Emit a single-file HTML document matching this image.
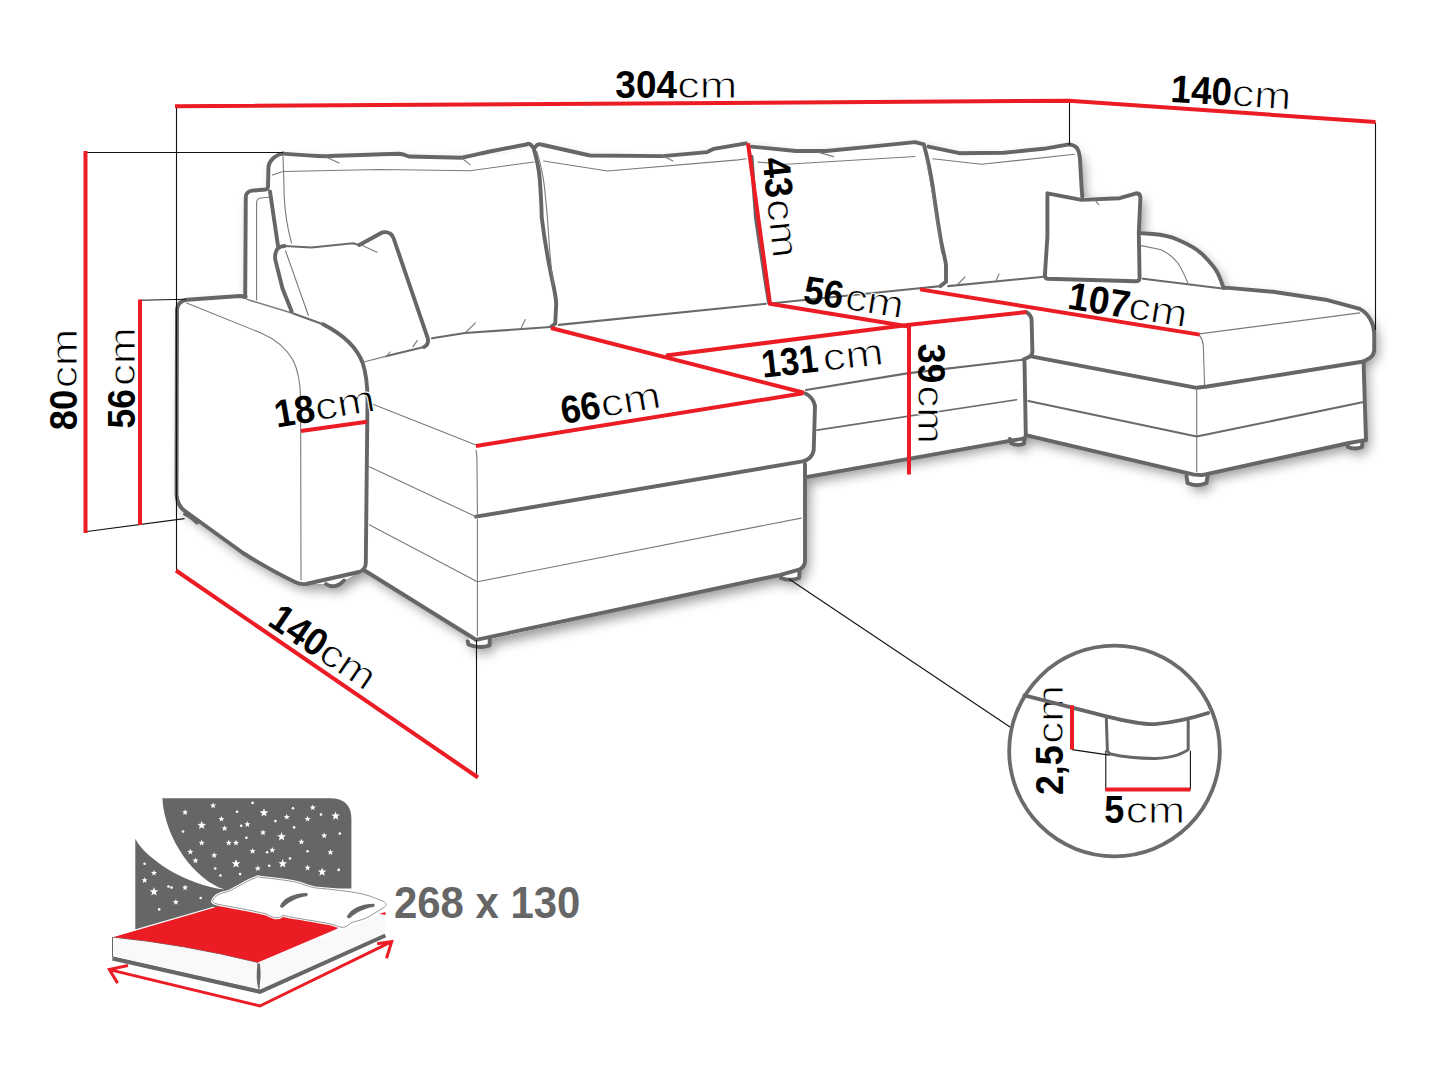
<!DOCTYPE html>
<html>
<head>
<meta charset="utf-8">
<style>
html,body{margin:0;padding:0;background:#fff;}
body{width:1445px;height:1084px;overflow:hidden;position:relative;}
svg{position:absolute;left:0;top:0;}
.k{fill:none;stroke:#666;stroke-width:3.9;stroke-linecap:round;stroke-linejoin:round;}
.m{fill:none;stroke:#6a6a6a;stroke-width:2.1;stroke-linecap:round;stroke-linejoin:round;}
.t{fill:none;stroke:#7a7a7a;stroke-width:1.1;stroke-linecap:round;stroke-linejoin:round;}
.r{fill:none;stroke:#ec1c24;stroke-width:4;stroke-linecap:butt;stroke-linejoin:miter;}
.b{fill:none;stroke:#111;stroke-width:1.1;}
text{font-family:"Liberation Sans",sans-serif;fill:#000;}
.n{font-weight:bold;}
.c{stroke:#fff;stroke-width:0.9;}
</style>
</head>
<body>
<svg width="1445" height="1084" viewBox="0 0 1445 1084">
<!-- SOFA -->
<g id="sofa">
<defs><filter id="sh" x="-10%" y="-10%" width="120%" height="130%"><feGaussianBlur in="SourceAlpha" stdDeviation="6"/><feOffset dx="3.5" dy="6" result="o"/><feComponentTransfer><feFuncA type="linear" slope="0.4"/></feComponentTransfer><feMerge><feMergeNode/><feMergeNode in="SourceGraphic"/></feMerge></filter></defs>
<path fill="#fff" filter="url(#sh)" d="M283,153.4 L322,156.5 L398.7,153.8 L409,156.5 L460,155.5 L505,154.5 L530,148 L543.3,145 L589.8,155.5 L662.9,156.1 L707.2,152.1 L745.9,143.3 L795.7,151 L870.7,146.6 L915,142.1 L959.3,153.2 L1003.6,152.8 L1069,144.4 Q1079.5,152 1080,160 L1082.3,197 L1119.7,198.2 L1136.3,193.3 Q1140.4,193.5 1140.4,198 L1139.6,233.1 L1152.9,234 C1165,235 1172,237 1177.8,239.8 C1190,245 1197,249 1202.7,254.7 C1210,262 1215,268 1217.7,273 C1220,278 1222,283 1223.5,287.9 L1273,291.8 L1325.6,299.7 L1359.8,308.9 Q1367,313 1370.3,319.4 Q1374,326 1374.2,332.6 L1374.2,351 L1363.7,361.5 L1366,440.4 L1362.5,442 L1362,447 Q1355,450 1348,447 L1347,443.5 L1202,475.1 L1207.5,476 L1206.5,483 Q1196.7,487.5 1187.5,483 L1186.5,476 L1194.1,474.6 L1025.8,435.2 L1024.5,437.8 L1024,443.5 Q1017,446.5 1011,443 L1010,439 L806,477.2 L805,561 Q805,566 799.9,569.3 L799.5,571 L799.2,578 Q790,581.5 781,578 L780.5,575.5 L489.8,639 L489.5,645.5 Q478.8,649 468.5,644.5 L467.7,641.3 L470,636 L363,569.5 L359,572 L344,580.5 Q335,590 326,584 L306,584 Q300,584.5 295,582 Q270,570 243,553 L186,511 Q178.5,506 177.5,495 L178.5,309 Q179.5,301 187,299.8 L240,296 L245.2,297 L245.8,197 Q246,191.5 252,190.6 L265.5,189.5 Q268,189 268,186.5 L268.5,166.5 C270,159 277,154.5 283,153.4 Z"/>
<!-- left back panel & arm -->
<path class="k" d="M283,153.4 C277,154.5 270,159 268.5,166.5 L268,186.5 Q268,189 265.5,189.5 L252,190.6 Q246,191.5 245.8,197 L245.2,297"/>
<path class="t" d="M270,197.3 L260,198 Q256.6,199 256.6,203 L256.6,300"/>
<path class="k" d="M245.6,297 L240,296 L187,299.8 Q178,301 177,309 L176.5,495 Q177.5,506 185,511 L243,553 Q270,570 295,582 Q300,584.5 306,584 L359,572 Q365.5,570 365.8,563 L367.5,400 C367.5,385 366,373 362.7,363 C356,345 340,333 323,324.3"/>
<path class="m" d="M323,324.3 L292.6,313.2"/>
<path class="t" style="stroke-width:1.5" d="M292.6,313.2 L246.9,299.4"/>
<path class="t" d="M186.6,303 L261,333 C275,339 286,348 293,360 C299,372 300.5,385 300.6,400 L301,580"/>
<path class="k" d="M185,514 Q190,516 197,522.5"/>
<path class="k" d="M326,584 Q335,590 344,580.5"/>
<!-- cushion 1 -->
<path class="k" d="M283,153.6 C300,155 315,156 326,156.3 C350,155.5 380,154 398.7,153.8 C403,154 406,155.5 409,156.5 C430,157 450,157.5 461.7,157.7 C472,156 482,153 492.2,151 C505,148.5 518,146 526.2,144.5 C528,143.4 529.5,143.5 531,145 L534,148.4"/>
<path class="k" d="M270,191.5 L278,246"/>
<path class="t" d="M283,156.6 C283.5,170 284,185 284.2,196.4 C285,215 288,230 291.5,243"/>
<path class="t" d="M272.4,175 L283,171.5 L379.5,169.5 L470,170.7 L534,162"/>
<path class="t" d="M326,157 L339,163"/>
<path class="t" d="M461.7,158 L470,164.6"/>
<path class="k" d="M534,149.4 C537,160 539,170 539.7,178.4 C541,195 541.5,207 541.7,217.2 C543.5,232 545.5,245 547.5,255.9 C549.5,267 551.5,277 553.3,285 C555,293 556.2,299 556.2,304.4 L555.2,323.7 L551.4,326.6"/>
<path class="t" d="M536.8,151.3 C541,165 543.5,178 544.6,188.1 C547,210 548.5,230 549.4,246.2 C550.5,262 552,275 553.3,285"/>
<path class="m" d="M432,338.3 L465,333 L550.3,327"/>
<path class="t" d="M465,333 L475.5,322.8 M521.2,328 L525.3,319.6"/>
<!-- left pillow -->
<path class="k" d="M291.5,311 L282.5,288.5 L275.2,259.4 Q274.5,251 279,247.5 Q282,246 284.5,246"/>
<path class="m" d="M284.5,246 L311.5,247.5 L353,243.3 L359.3,245"/>
<path class="k" d="M359.3,245 L382.1,232.5 Q387,231.5 390,233.5 Q392.5,235 393.5,238 L427.8,338.3 Q429,344.5 424,347"/>
<path class="m" d="M424,347 L386.7,356.1"/>
<path class="t" d="M386.7,356.1 L364.6,361.7"/>
<path class="t" d="M285.6,251 L308.4,315.5"/>
<path class="t" d="M361.3,245 L377,252.2"/>
<path class="t" d="M417.4,340.4 L413,346.6 M390,352 L386,357"/>
<!-- cushion 2 -->
<path class="k" d="M534,148.4 L537,145 Q539,143.8 541,144.5 L589.8,155.5 L662.9,156.1 L707.2,152.1 L713.8,148.8 L745.9,143.3"/>
<path class="t" d="M543.6,161 L607.5,171 L738.2,159.9 L746,158.8"/>
<path class="t" d="M663,156 L673,161"/>
<path class="m" d="M558.8,324.9 L765.8,303.8"/>
<path class="k" d="M751.5,156.6 L756,218.6 L766,285 L769,302.7"/>
<!-- cushion 3 -->
<path class="k" d="M751.5,146.6 L795.7,151 L826.4,151 L870.7,146.6 L915,142.1 L923.9,144.4 C928,160 931,175 932.7,186.4 C936,210 939,230 941.6,244 C944,255 946,262 946,266.2 L946,281.7 L940.5,286.1"/>
<path class="t" d="M758,162.1 L786.6,164.3 L915,156.5"/>
<path class="t" d="M926,157.6 C932,190 938,225 941.6,252.9"/>
<path class="t" d="M817.9,152.1 L833.4,156.6"/>
<path class="m" d="M770,303.5 L919.4,288.3 L940.5,286.1"/>
<!-- cushion 4 -->
<path class="k" d="M928.3,146.6 L959.3,153.2 L1003.6,152.8 L1043.5,148.8 L1069,144.4 Q1074.5,145 1077,148 Q1079.5,152 1080,160 L1081.5,186.6 L1082.3,197"/>
<path class="t" d="M932.7,158.8 L981.5,164.3 L1074.5,154.3"/>
<path class="m" d="M948.2,286.1 L1039,277.2 L1045,276.5"/>
<path class="t" d="M958,284 L965,277 M996,281 L999,274"/>
<!-- right pillow -->
<path class="k" d="M1047.4,193.3 L1081.5,199.9 L1119.7,198.2 L1136.3,193.3 Q1140.4,193.5 1140.4,198 L1138.8,233 L1139.6,278.5 Q1139,281.3 1136,281.3 L1047.5,278.8 Q1044.9,278.5 1044.9,275 L1047.4,236.4 L1047.4,196 Z"/>
<path class="t" d="M1094.8,199.9 L1098.9,204.9"/>
<!-- right arm + chaise -->
<path class="k" d="M1139.6,233.1 L1152.9,234 C1165,235 1172,237 1177.8,239.8 C1190,245 1197,249 1202.7,254.7 C1210,262 1215,268 1217.7,273 C1220,278 1222,283 1223.5,287.9 L1228.3,287.9 L1273,291.8 L1325.6,299.7 L1359.8,308.9 Q1367,313 1370.3,319.4 Q1374,326 1374.2,332.6 L1374.2,351 Q1373,356 1370.3,357.6 L1363.7,361.5"/>
<path class="t" d="M1141.3,245.6 L1161.2,249.7 C1168,253 1174,258 1177.8,263 C1182,269 1185,276 1187.8,283"/>
<path class="m" d="M1143,278.8 L1224.3,288.8"/>
<path class="t" d="M1199.3,333.9 L1359.8,312.9"/>
<path class="t" d="M1199.3,335.2 Q1203,340 1203.3,345.7 L1204.6,385.2"/>
<path class="k" d="M1363.7,361.5 L1207.2,386.5 L1196.7,387.8 L1031,356.3"/>
<path class="t" d="M1196.7,388 L1196.7,472"/>
<path class="m" d="M1028.4,401 L1196.7,436.5 L1362.4,402.3"/>
<path class="k" d="M1363.5,361.5 L1366,440.4"/>
<path class="k" d="M1025.8,435.2 L1194.1,474.6 L1202,475.1 L1349.2,443 L1363.7,440.4"/>
<path class="k" d="M1186.5,476 L1187.5,483 Q1196.7,487.5 1206.5,483 L1207.5,476"/>
<path class="k" d="M1347,443.5 L1348,447 Q1355,450 1362,447 L1362.5,442"/>
<path class="k" d="M1010,439 L1011,443 Q1017,446.5 1024,443.5 L1024.5,437.8"/>
<!-- middle seat -->
<path class="k" d="M1026.2,312 Q1031,315 1031.6,319.5 L1032.4,352.5 Q1031.5,356 1029,357 L1023.4,359.5"/>
<path class="m" d="M806,390 L907,373.4 L1024.8,359.5"/>
<path class="m" style="stroke-width:1.6" d="M817,430.1 L1016.5,399.7"/>
<path class="k" d="M1024.5,361.5 L1025.8,435.2"/>
<path class="k" d="M806,477.2 L1008.2,441.2 L1024.8,438.4"/>
<!-- left chaise -->
<path class="t" d="M371.7,403.7 L476,445"/>
<path class="t" d="M476,450.3 Q477,455 477,462 L477.4,514"/>
<path class="k" d="M476,516.7 L802.6,461.4 Q812,459 813.7,450.3 L815,406 Q813,397 805.4,393.5"/>
<path class="t" d="M369.3,466.7 L476,516.7"/>
<path class="t" d="M369.3,524.8 L477.4,581.8 L801.2,518.1"/>
<path class="k" d="M363,569.5 L470,636 L476,639.9 L780.5,574.8 L799.9,569.3 Q805,566 805,561 L805,464"/>
<path class="t" d="M477.4,519.5 L477.4,635.7"/>
<path class="k" d="M467.7,641.3 L468.5,644.5 Q478.8,649 489.5,645.5 L489.8,639"/>
<path class="k" d="M780.5,575.5 L781,578 Q790,581.5 799.2,578 L799.5,571"/>
</g>
<!-- DIMENSIONS -->
<g id="dims">
<path class="b" d="M176.5,106 L176.5,570"/>
<path class="b" d="M86,152.5 L283,152.5"/>
<path class="b" d="M140,300.2 L186,299.2"/>
<path class="b" d="M87,531.5 L184.5,518.6"/>
<path class="b" d="M1069.5,101.5 L1069.5,145"/>
<path class="b" d="M1375.5,122.5 L1375.5,330"/>
<path class="b" d="M476.5,640 L476.5,776"/>
<path class="b" d="M789,579 L1010,727"/>
<path class="r" d="M175,106.2 L1069,100.8 L1375.5,122"/>
<path class="r" d="M85.5,151 L85.5,533"/>
<path class="r" d="M140,299.5 L140,525"/>
<path class="r" d="M176,570.5 L478,777.5"/>
<path class="r" d="M301,431 L367,421.8"/>
<path class="r" d="M476,446 L803,393.3"/>
<path class="r" d="M551,328 L804,392.8"/>
<path class="r" d="M666,355.5 L907.5,325 L1026.5,312"/>
<path class="r" d="M748,143.3 L770,303.8 L908.5,326.5"/>
<path class="r" d="M909,325 L909,474.5"/>
<path class="r" d="M920,289.4 L1199.6,334.6"/>
</g>
<!-- LABELS -->
<g id="labels">
<g transform="translate(616.1,97.5) rotate(0.0)"><text class="n" x="-0.74" font-size="38.8" textLength="61.65" lengthAdjust="spacingAndGlyphs">304</text><text x="61.20" class="c" font-size="37.8" textLength="59.93" lengthAdjust="spacingAndGlyphs">cm</text></g>
<g transform="translate(1172.2,101.8) rotate(3.7)"><text class="n" x="-2.20" font-size="38.8" textLength="61.21" lengthAdjust="spacingAndGlyphs">140</text><text x="59.22" class="c" font-size="37.8" textLength="59.28" lengthAdjust="spacingAndGlyphs">cm</text></g>
<g transform="translate(77.1,429.1) rotate(-90.0)"><text class="n" x="-1.09" font-size="38.8" textLength="40.46" lengthAdjust="spacingAndGlyphs">80</text><text x="40.92" class="c" font-size="37.8" textLength="59.39" lengthAdjust="spacingAndGlyphs">cm</text></g>
<g transform="translate(135.3,427.4) rotate(-90.0)"><text class="n" x="-1.06" font-size="38.8" textLength="39.30" lengthAdjust="spacingAndGlyphs">56</text><text x="41.44" class="c" font-size="37.8" textLength="58.74" lengthAdjust="spacingAndGlyphs">cm</text></g>
<g transform="translate(279.0,427.3) rotate(-9.7)"><text class="n" x="-2.18" font-size="38.8" textLength="40.38" lengthAdjust="spacingAndGlyphs">18</text><text x="38.48" class="c" font-size="37.8" textLength="60.69" lengthAdjust="spacingAndGlyphs">cm</text></g>
<g transform="translate(564.3,423.7) rotate(-9.5)"><text class="n" x="-1.43" font-size="38.8" textLength="39.89" lengthAdjust="spacingAndGlyphs">66</text><text x="38.88" class="c" font-size="37.8" textLength="60.58" lengthAdjust="spacingAndGlyphs">cm</text></g>
<g transform="translate(762.5,159.0) rotate(84.0)"><text class="n" x="-0.36" font-size="38.8" textLength="40.43" lengthAdjust="spacingAndGlyphs">43</text><text x="41.43" class="c" font-size="37.8" textLength="58.85" lengthAdjust="spacingAndGlyphs">cm</text></g>
<g transform="translate(803.3,302.7) rotate(9.0)"><text class="n" x="-1.07" font-size="38.8" textLength="39.72" lengthAdjust="spacingAndGlyphs">56</text><text x="40.94" class="c" font-size="37.8" textLength="58.63" lengthAdjust="spacingAndGlyphs">cm</text></g>
<g transform="translate(765.0,377.6) rotate(-6.4)"><text class="n" x="-2.04" font-size="38.8" textLength="56.70" lengthAdjust="spacingAndGlyphs">131</text><text x="59.47" class="c" font-size="37.8" textLength="60.90" lengthAdjust="spacingAndGlyphs">cm</text></g>
<g transform="translate(917.6,344.4) rotate(90.0)"><text class="n" x="-0.71" font-size="38.8" textLength="39.45" lengthAdjust="spacingAndGlyphs">39</text><text x="40.84" class="c" font-size="37.8" textLength="58.74" lengthAdjust="spacingAndGlyphs">cm</text></g>
<g transform="translate(1068.7,308.8) rotate(9.0)"><text class="n" x="-2.23" font-size="38.8" textLength="62.13" lengthAdjust="spacingAndGlyphs">107</text><text x="59.13" class="c" font-size="37.8" textLength="58.95" lengthAdjust="spacingAndGlyphs">cm</text></g>
<g transform="translate(268.0,625.5) rotate(34.1)"><text class="n" x="-2.19" font-size="38.8" textLength="60.78" lengthAdjust="spacingAndGlyphs">140</text><text x="58.73" class="c" font-size="37.8" textLength="59.06" lengthAdjust="spacingAndGlyphs">cm</text></g>
<g transform="translate(1063.0,794.0) rotate(-90.0)"><text class="n" x="-1.07" font-size="38.8" textLength="49.75" lengthAdjust="spacingAndGlyphs">2,5</text><text x="50.23" class="c" font-size="37.8" textLength="58.85" lengthAdjust="spacingAndGlyphs">cm</text></g>
<g transform="translate(1105.4,822.6) rotate(0.0)"><text class="n" x="-1.08" font-size="38.8" textLength="20.02" lengthAdjust="spacingAndGlyphs">5</text><text x="20.32" class="c" font-size="37.8" textLength="59.28" lengthAdjust="spacingAndGlyphs">cm</text></g>
</g>
<!-- DETAIL CIRCLE -->
<g id="detail">
<circle cx="1114.5" cy="751" r="105.3" fill="none" stroke="#6b6b6b" stroke-width="3.8"/>
<path class="k" d="M1024.4,695.3 L1106.3,716.3 Q1140,724.5 1155,724.1 Q1180,722 1208.1,713"/>
<path class="k" style="stroke-width:3" d="M1106.3,717.5 L1107.4,750.7 Q1108,753 1110.7,754 Q1130,758.5 1155,758.4 Q1168,758 1177.1,755.1 Q1185,752 1188.2,749.6 L1188.2,720.8"/>
<path class="b" d="M1105.8,750.7 L1105.8,789.4 M1190.4,750.7 L1190.4,789.4"/>
<path class="b" d="M1072,749.6 L1109.6,755.1"/>
<path class="r" d="M1105.2,789.4 L1190.4,789.4"/>
<path class="r" d="M1072,705.3 L1072,749.6"/>
</g>
<!-- BED ICON -->
<g id="bed">
<defs><path id="st" d="M0.000,-1.000 L0.247,-0.340 L0.951,-0.309 L0.399,0.130 L0.588,0.809 L0.000,0.420 L-0.588,0.809 L-0.399,0.130 L-0.951,-0.309 L-0.247,-0.340Z"/></defs>
<path fill="#666" d="M162.3,798.3 L330,798.3 Q351.4,798.3 351.4,819 L351.4,888.4 L315,888.4 L135.3,935 L135.3,838.8 C145,858 185,885 224.6,889.6 C195,880 165,840 162.3,798.3 Z"/>
<g fill="#fff">
<use href="#st" transform="translate(213.1,805.6) scale(3.2)"/>
<circle cx="252.6" cy="802.9" r="1.3"/>
<use href="#st" transform="translate(185.1,812.4) scale(3.2)"/>
<use href="#st" transform="translate(264.0,812.8) scale(4.6)"/>
<circle cx="237.0" cy="811.8" r="1.3"/>
<use href="#st" transform="translate(312.8,807.6) scale(3.2)"/>
<use href="#st" transform="translate(335.6,816.0) scale(4.6)"/>
<circle cx="321.0" cy="814.5" r="1.3"/>
<circle cx="293.0" cy="808.3" r="1.3"/>
<use href="#st" transform="translate(221.4,819.0) scale(3.2)"/>
<use href="#st" transform="translate(286.8,817.0) scale(3.2)"/>
<use href="#st" transform="translate(307.6,819.0) scale(3.2)"/>
<circle cx="275.4" cy="821.1" r="1.3"/>
<use href="#st" transform="translate(201.7,825.3) scale(4.6)"/>
<use href="#st" transform="translate(247.4,824.3) scale(3.2)"/>
<circle cx="241.2" cy="825.7" r="1.3"/>
<circle cx="294.1" cy="827.4" r="1.3"/>
<use href="#st" transform="translate(224.6,828.4) scale(3.2)"/>
<circle cx="183.0" cy="831.5" r="1.3"/>
<use href="#st" transform="translate(263.0,832.6) scale(3.2)"/>
<use href="#st" transform="translate(281.6,836.7) scale(4.6)"/>
<use href="#st" transform="translate(324.2,835.7) scale(3.2)"/>
<circle cx="339.8" cy="833.6" r="1.3"/>
<circle cx="246.4" cy="837.7" r="1.3"/>
<use href="#st" transform="translate(201.7,842.9) scale(3.2)"/>
<use href="#st" transform="translate(228.7,842.9) scale(3.2)"/>
<use href="#st" transform="translate(236.0,842.9) scale(3.2)"/>
<use href="#st" transform="translate(301.4,841.9) scale(3.2)"/>
<use href="#st" transform="translate(190.3,851.9) scale(3.2)"/>
<use href="#st" transform="translate(214.2,855.4) scale(3.2)"/>
<use href="#st" transform="translate(252.6,851.2) scale(3.2)"/>
<circle cx="267.1" cy="852.3" r="1.3"/>
<use href="#st" transform="translate(272.3,850.2) scale(3.2)"/>
<circle cx="307.6" cy="851.2" r="1.3"/>
<use href="#st" transform="translate(330.4,852.3) scale(3.2)"/>
<use href="#st" transform="translate(195.5,860.6) scale(3.2)"/>
<use href="#st" transform="translate(236.0,863.7) scale(4.6)"/>
<use href="#st" transform="translate(282.7,863.7) scale(4.6)"/>
<circle cx="290.0" cy="858.5" r="1.3"/>
<circle cx="215.2" cy="868.5" r="1.3"/>
<use href="#st" transform="translate(257.8,868.5) scale(3.2)"/>
<circle cx="269.2" cy="865.8" r="1.3"/>
<use href="#st" transform="translate(307.6,867.8) scale(3.2)"/>
<use href="#st" transform="translate(322.1,872.0) scale(4.6)"/>
<circle cx="338.7" cy="869.9" r="1.3"/>
<circle cx="220.4" cy="875.5" r="1.3"/>
<circle cx="240.1" cy="874.1" r="1.3"/>
<circle cx="144.6" cy="863.7" r="1.3"/>
<use href="#st" transform="translate(154.0,873.0) scale(3.2)"/>
<use href="#st" transform="translate(144.6,880.3) scale(3.2)"/>
<use href="#st" transform="translate(154.0,891.7) scale(4.6)"/>
<circle cx="168.5" cy="886.5" r="1.3"/>
<circle cx="171.6" cy="887.6" r="1.3"/>
<use href="#st" transform="translate(185.1,887.6) scale(3.2)"/>
<use href="#st" transform="translate(175.8,902.1) scale(3.2)"/>
<circle cx="200.7" cy="898.0" r="1.3"/>
<circle cx="159.2" cy="909.4" r="1.3"/>

</g>
<!-- mattress -->
<path fill="#fff" d="M112.5,937 L214.2,907.4 L384.4,913.6 L257.8,962.4 Z"/>
<path fill="#f9f9f9" stroke="#666" stroke-width="1" d="M112.5,937 Q183,944 257.8,962.4 L259.9,990.4 L112.5,957.2 Z"/>
<path fill="#f9f9f9" d="M257.8,962.4 L384.4,913.6 L385.4,934.4 L259.9,990.4 Z"/>
<path fill="none" stroke="#666" stroke-width="4" d="M112.5,958.5 L259.9,991.8 L385.4,935.5"/>
<path fill="#666" d="M257.8,963.5 Q255.2,977 258.5,990 Q262,977 259.8,963.5 Z"/>
<path fill="#ec1c24" d="M112.5,937 L214.2,907.4 L250,897 L340,912 L341,926.5 L335.5,929.5 L257.8,962.4 Q183,944 112.5,937 Z"/>
<path fill="none" stroke="#fff" stroke-width="1.2" d="M112.5,936.6 L214.2,907"/>
<path fill="#ec1c24" d="M379.5,913.8 L385.5,912 L385.5,915 Z"/>
<!-- pillows -->
<path fill="#fff" stroke="#fff" stroke-width="3" d="M212.5,901.5 C214,896 220,893 227.7,891.8 C238,887 248,880 255.4,878 C257,876.5 258.5,876.5 259.5,877.3 C268,878 276,879 283,880 C290,881 297,882 302,884 C308,886 312,887.5 316,888 C324,888.5 332,889.5 338.4,890.4 C350,891.5 360,893 368,895.5 C375,898 381,900 384.5,902 C386.5,903.5 386.5,905.5 384.5,907 C378,911 372,915 366.1,918.1 C360,920.5 355,921.5 352.2,922.3 C349,924 347,927 343.5,927.3 C340,927.5 337,926 334,924.8 C322,922 308,920 296.9,918.1 C290,917 286,916 283,915.4 C281,917 279,918 276,917.8 C273,917.6 270,916 266.4,914 C250,910 232,907 218,904.3 C215,903.5 213,902.5 212.5,901.5 Z"/>
<path fill="none" stroke="#8a8a8a" stroke-width="0.9" d="M212.5,901.5 C214,896 220,893 227.7,891.8 C238,887 248,880 255.4,878 C257,876.5 258.5,876.5 259.5,877.3 C268,878 276,879 283,880 C290,881 297,882 302,884 C308,886 312,887.5 316,888 C324,888.5 332,889.5 338.4,890.4 C350,891.5 360,893 368,895.5 C375,898 381,900 384.5,902 C386.5,903.5 386.5,905.5 384.5,907 C378,911 372,915 366.1,918.1 C360,920.5 355,921.5 352.2,922.3 C349,924 347,927 343.5,927.3 C340,927.5 337,926 334,924.8 C322,922 308,920 296.9,918.1 C290,917 286,916 283,915.4 C281,917 279,918 276,917.8 C273,917.6 270,916 266.4,914 C250,910 232,907 218,904.3 C215,903.5 213,902.5 212.5,901.5 Z"/>
<path fill="#666" d="M280,906 C283,898.5 293,893 307,893 C308,894 307.8,895.6 306.5,896.3 C297,897.5 289,902 283,907.5 C281.5,908 280,907.5 280,906 Z"/>
<path fill="#666" d="M347,916.5 C350,909.5 360,904 374,903.8 C375,904.8 374.8,906.4 373.5,907.1 C364,908.3 356,913 350,918 C348.5,918.5 347,918 347,916.5 Z"/>
<!-- arrows -->
<path fill="none" stroke="#ec1c24" stroke-width="3" stroke-linejoin="miter" d="M128,965.5 L109.3,969.6 L117.6,983.1 M109.3,969.6 L259.9,1006 L391.7,941.6 M377.1,943.7 L391.7,941.6 L386.5,958.2"/>
<text x="393.94" y="918" font-size="43.5" font-weight="bold" style="fill:#666" textLength="186.36" lengthAdjust="spacingAndGlyphs">268 x 130</text>
</g>
</svg>
</body>
</html>
